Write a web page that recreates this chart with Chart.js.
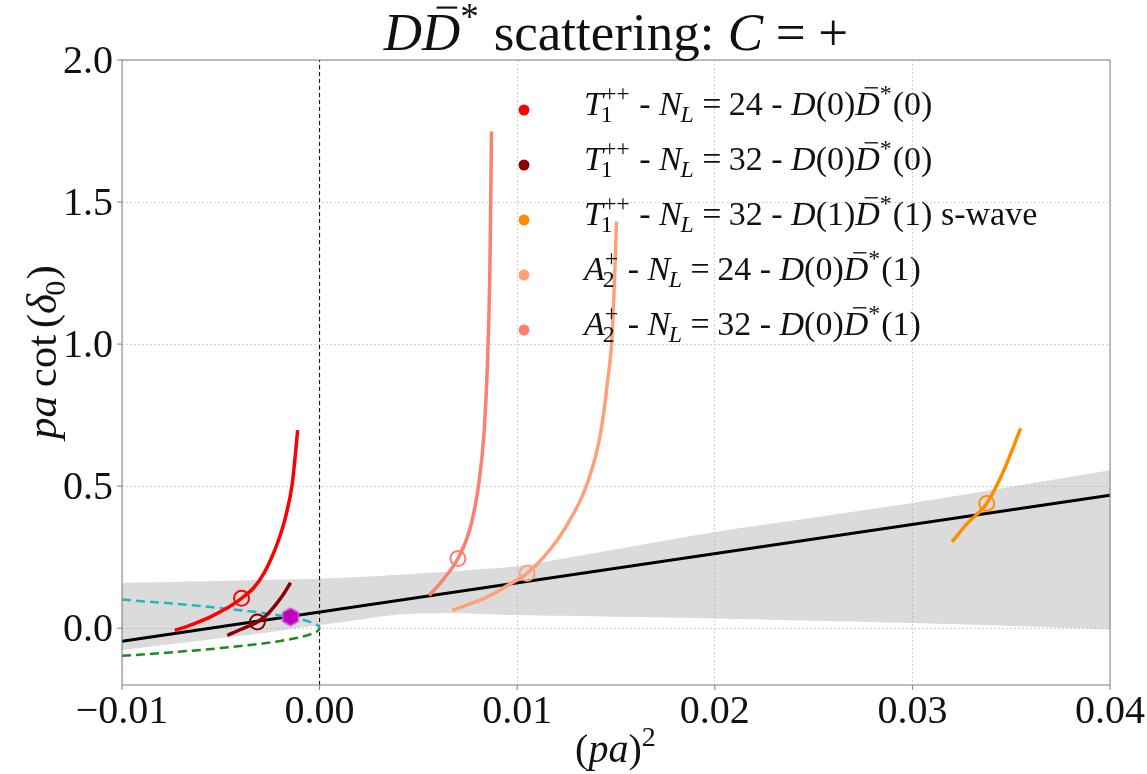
<!DOCTYPE html>
<html>
<head>
<meta charset="utf-8">
<script src="https://cdn.jsdelivr.net/npm/chart.js@4.4.1/dist/chart.umd.min.js"></script>
<style>
html, body { margin: 0; padding: 0; background: #fff; }
#wrap { width: 1147px; height: 774px; position: relative; }
</style>
</head>
<body>
<div id="wrap"><canvas id="chart"></canvas></div>
<script>
// ---- data ----
var xTicks = [-0.01, 0.00, 0.01, 0.02, 0.03, 0.04];
var xTickLabels = ['\u22120.01', '0.00', '0.01', '0.02', '0.03', '0.04'];
var yTicks = [0.0, 0.5, 1.0, 1.5, 2.0];
var yTickLabels = ['0.0', '0.5', '1.0', '1.5', '2.0'];

// effective range fit and its band
var fitX = [-0.01, 0.04];
var fitY = [-0.046, 0.468];
var bandX = [-0.01, -0.008, -0.006, -0.004, -0.002, 0.0, 0.002, 0.004, 0.006, 0.008, 0.01, 0.015, 0.02, 0.025, 0.03, 0.035, 0.04];
var bandHi = [0.160, 0.162, 0.165, 0.168, 0.171, 0.174, 0.180, 0.188, 0.197, 0.207, 0.218, 0.278, 0.339, 0.390, 0.441, 0.498, 0.556];
var bandLo = [-0.077, -0.060, -0.044, -0.027, -0.009, 0.011, 0.030, 0.048, 0.053, 0.050, 0.046, 0.040, 0.034, 0.026, 0.018, 0.008, -0.004];

// bound state lines +/- sqrt(-p^2)
var boundX = [-0.01, -0.009, -0.008, -0.007, -0.006, -0.005, -0.004, -0.003, -0.002, -0.0015, -0.001, -0.0006, -0.0003, -0.0001, -0.00003, 0.0];
var boundPlus = [0.101, 0.095, 0.090, 0.084, 0.078, 0.071, 0.063, 0.055, 0.045, 0.039, 0.032, 0.025, 0.017, 0.010, 0.005, 0.0];
var boundMinus = [-0.097, -0.093, -0.088, -0.082, -0.077, -0.070, -0.063, -0.055, -0.045, -0.039, -0.032, -0.025, -0.017, -0.010, -0.005, 0.0];

// finite volume curves
var t24X = [-0.00733, -0.0065, -0.00552, -0.00475, -0.00395, -0.0033, -0.00282, -0.00245, -0.00214, -0.00172, -0.00138, -0.00111];
var t24Y = [-0.008, 0.012, 0.040, 0.068, 0.105, 0.145, 0.193, 0.245, 0.298, 0.392, 0.510, 0.697];
var t32X = [-0.00467, -0.0039, -0.00315, -0.0027, -0.00231, -0.0019, -0.00147];
var t32Y = [-0.025, -0.002, 0.022, 0.045, 0.075, 0.112, 0.160];
var t32sX = [0.0320, 0.03278, 0.03376, 0.03463, 0.03548];
var t32sY = [0.304, 0.369, 0.439, 0.556, 0.703];
var a24X = [0.00672, 0.00849, 0.0095, 0.0105, 0.01135, 0.01236, 0.01355, 0.01422, 0.01456, 0.01481, 0.01503];
var a24Y = [0.063, 0.110, 0.150, 0.193, 0.251, 0.345, 0.510, 0.686, 0.862, 1.038, 1.431];
var a32X = [0.00555, 0.0063, 0.0070, 0.00764, 0.00806, 0.00832, 0.00849, 0.00862, 0.0087];
var a32Y = [0.115, 0.175, 0.245, 0.357, 0.510, 0.686, 0.920, 1.272, 1.748];

// lattice levels (open circles) and the pole (hexagon)
var levelX = [-0.00395, -0.00315, 0.03376, 0.0105, 0.0070];
var levelY = [0.105, 0.022, 0.439, 0.193, 0.245];
var poleX = [-0.00147];
var poleY = [0.040];

var seriesColors = ['#ff0000', '#8b0000', '#ff8c00', '#ffa07a', '#fa8072'];

// legend texts as math runs
var legendLabels = [
    [{t: 'T', i: 1}, {sup: '++', sub: '1'}, {t: ' - '}, {t: 'N', i: 1}, {sub: 'L', subI: 1}, {g: 0.22}, {t: '='}, {g: 0.22}, {t: '24'}, {t: ' - '}, {t: 'D', i: 1}, {t: '(0)'}, {t: 'D', i: 1, bar: 1}, {sup: '*'}, {t: '(0)'}],
    [{t: 'T', i: 1}, {sup: '++', sub: '1'}, {t: ' - '}, {t: 'N', i: 1}, {sub: 'L', subI: 1}, {g: 0.22}, {t: '='}, {g: 0.22}, {t: '32'}, {t: ' - '}, {t: 'D', i: 1}, {t: '(0)'}, {t: 'D', i: 1, bar: 1}, {sup: '*'}, {t: '(0)'}],
    [{t: 'T', i: 1}, {sup: '++', sub: '1'}, {t: ' - '}, {t: 'N', i: 1}, {sub: 'L', subI: 1}, {g: 0.22}, {t: '='}, {g: 0.22}, {t: '32'}, {t: ' - '}, {t: 'D', i: 1}, {t: '(1)'}, {t: 'D', i: 1, bar: 1}, {sup: '*'}, {t: '(1) s-wave'}],
    [{t: 'A', i: 1}, {sup: '+', sub: '2'}, {t: ' - '}, {t: 'N', i: 1}, {sub: 'L', subI: 1}, {g: 0.22}, {t: '='}, {g: 0.22}, {t: '24'}, {t: ' - '}, {t: 'D', i: 1}, {t: '(0)'}, {t: 'D', i: 1, bar: 1}, {sup: '*'}, {t: '(1)'}],
    [{t: 'A', i: 1}, {sup: '+', sub: '2'}, {t: ' - '}, {t: 'N', i: 1}, {sub: 'L', subI: 1}, {g: 0.22}, {t: '='}, {g: 0.22}, {t: '32'}, {t: ' - '}, {t: 'D', i: 1}, {t: '(0)'}, {t: 'D', i: 1, bar: 1}, {sup: '*'}, {t: '(1)'}]
];
var titleRuns = [{t: 'D', i: 1}, {t: 'D', i: 1, bar: 1}, {sup: '*'}, {t: ' scattering: '}, {t: 'C', i: 1}, {g: 0.24}, {t: '='}, {g: 0.24}, {t: '+'}];
var xTitleRuns = [{t: '('}, {t: 'pa', i: 1}, {t: ')'}, {sup: '2'}];
var yTitleRuns = [{t: 'pa', i: 1}, {g: 0.2}, {t: 'cot'}, {g: 0.15}, {t: '('}, {t: '\u03b4', i: 1}, {sub: '0'}, {t: ')'}];

// ---- helpers ----
function pts(xs, ys) {
    return xs.map(function(x, k) { return {x: x, y: ys[k]}; });
}

function fontStr(italic, px) {
    return (italic ? 'italic ' : '') + px + 'px "Liberation Serif", "DejaVu Serif", serif';
}

// draws (or only measures) a run list, returns its width
function mathRuns(ctx, runs, x, y, size, draw) {
    var cx = x;
    runs.forEach(function(r) {
        if (r.g !== undefined) { cx += r.g * size; return; }
        if (r.sup !== undefined || r.sub !== undefined) {
            var s = size * 0.7, w = 0;
            if (r.sup) {
                ctx.font = fontStr(false, s);
                if (draw) ctx.fillText(r.sup, cx, y - size * 0.40);
                w = Math.max(w, ctx.measureText(r.sup).width);
            }
            if (r.sub) {
                ctx.font = fontStr(r.subI, s);
                var k = r.sup ? -0.06 * size : -0.04 * size;
                if (draw) ctx.fillText(r.sub, cx + k, y + size * 0.22);
                w = Math.max(w, ctx.measureText(r.sub).width + k);
            }
            cx += w + 0.03 * size;
            return;
        }
        ctx.font = fontStr(r.i, size);
        var tw = ctx.measureText(r.t).width;
        if (draw) {
            ctx.fillText(r.t, cx, y);
            if (r.bar) {
                ctx.save();
                ctx.lineWidth = Math.max(1.2, size * 0.04);
                ctx.beginPath();
                ctx.moveTo(cx + tw * 0.38, y - size * 0.80);
                ctx.lineTo(cx + tw * 0.92, y - size * 0.80);
                ctx.strokeStyle = ctx.fillStyle;
                ctx.stroke();
                ctx.restore();
            }
        }
        cx += tw;
    });
    return cx - x;
}

function drawMath(ctx, runs, x, y, size, align) {
    var w = mathRuns(ctx, runs, 0, 0, size, false);
    var sx = align === 'center' ? x - w / 2 : (align === 'right' ? x - w : x);
    mathRuns(ctx, runs, sx, y, size, true);
}

function hexagon(r, fill, stroke) {
    var c = document.createElement('canvas');
    var s = Math.ceil(r * 2 + 4);
    c.width = s; c.height = s;
    var g = c.getContext('2d');
    g.beginPath();
    for (var k = 0; k < 6; k++) {
        var ang = Math.PI / 2 + k * Math.PI / 3;
        var px = s / 2 + r * Math.cos(ang), py = s / 2 + r * Math.sin(ang);
        if (k === 0) g.moveTo(px, py); else g.lineTo(px, py);
    }
    g.closePath();
    g.fillStyle = fill; g.fill();
    g.strokeStyle = stroke; g.lineWidth = 1.5; g.stroke();
    return c;
}

function curve(xs, ys, color, order) {
    return {
        data: pts(xs, ys),
        borderColor: color,
        borderWidth: 3.5,
        pointRadius: 0,
        fill: false,
        cubicInterpolationMode: 'monotone',
        order: order
    };
}

// ---- decorations: spines, ticks, labels, title, legend ----
var decor = {
    id: 'decor',
    afterDraw: function(chart) {
        var ctx = chart.ctx, a = chart.chartArea;
        var xs = chart.scales.x, ys = chart.scales.y;
        ctx.save();
        ctx.strokeStyle = '#808080';
        ctx.lineWidth = 1;
        ctx.strokeRect(a.left, a.top, a.right - a.left, a.bottom - a.top);

        ctx.fillStyle = '#111';
        ctx.textBaseline = 'alphabetic';
        xTicks.forEach(function(v, k) {
            var px = xs.getPixelForValue(v);
            ctx.beginPath(); ctx.moveTo(px, a.bottom); ctx.lineTo(px, a.bottom + 5); ctx.stroke();
            ctx.font = fontStr(false, 40);
            ctx.textAlign = 'center';
            ctx.fillText(xTickLabels[k], px, a.bottom + 38);
        });
        yTicks.forEach(function(v, k) {
            var py = ys.getPixelForValue(v);
            ctx.beginPath(); ctx.moveTo(a.left - 5, py); ctx.lineTo(a.left, py); ctx.stroke();
            ctx.font = fontStr(false, 40);
            ctx.textAlign = 'right';
            ctx.fillText(yTickLabels[k], a.left - 9, py + 13);
        });

        ctx.textAlign = 'left';
        drawMath(ctx, titleRuns, (a.left + a.right) / 2, 50, 53, 'center');
        drawMath(ctx, xTitleRuns, (a.left + a.right) / 2, 762, 40, 'center');

        ctx.save();
        ctx.translate(56, 352);
        ctx.rotate(-Math.PI / 2);
        drawMath(ctx, yTitleRuns, 0, 0, 43, 'center');
        ctx.restore();

        // legend
        legendLabels.forEach(function(runs, k) {
            var my = 110 + k * 55;
            ctx.beginPath();
            ctx.arc(524, my, 5.5, 0, Math.PI * 2);
            ctx.fillStyle = seriesColors[k];
            ctx.fill();
            ctx.fillStyle = '#111';
            drawMath(ctx, runs, 584, my + 5, 34, 'left');
        });
        ctx.restore();
    }
};

var gridOpts = { color: '#c8c8c8', lineWidth: 0.8, drawTicks: false };

new Chart(document.getElementById('chart').getContext('2d'), {
    type: 'line',
    data: {
        datasets: [
            { data: pts(bandX, bandHi), borderWidth: 0, pointRadius: 0, backgroundColor: 'rgba(160,160,160,0.38)', fill: '+1', tension: 0.3, order: 20 },
            { data: pts(bandX, bandLo), borderWidth: 0, pointRadius: 0, fill: false, tension: 0.3, order: 21 },
            { data: pts(fitX, fitY), borderColor: '#000', borderWidth: 3, pointRadius: 0, fill: false, order: 15 },
            { data: [{x: 0, y: -0.2}, {x: 0, y: 2.0}], borderColor: '#000', borderWidth: 1, borderDash: [4, 3], pointRadius: 0, fill: false, order: 14 },
            { data: pts(boundX, boundPlus), borderColor: '#1cbcbc', borderWidth: 2.5, borderDash: [9, 5], pointRadius: 0, fill: false, tension: 0, order: 13 },
            { data: pts(boundX, boundMinus), borderColor: '#1a8c1a', borderWidth: 2.5, borderDash: [9, 5], pointRadius: 0, fill: false, tension: 0, order: 12 },
            curve(t24X, t24Y, seriesColors[0], 10),
            curve(t32X, t32Y, seriesColors[1], 9),
            curve(t32sX, t32sY, seriesColors[2], 8),
            curve(a24X, a24Y, seriesColors[3], 7),
            curve(a32X, a32Y, seriesColors[4], 6),
            {
                data: pts(levelX, levelY),
                showLine: false,
                pointRadius: 7.5,
                pointBorderWidth: 2,
                pointBackgroundColor: 'rgba(0,0,0,0)',
                pointBorderColor: seriesColors,
                order: 3
            },
            {
                data: pts(poleX, poleY),
                showLine: false,
                pointStyle: hexagon(9, '#c000c0', '#d860d8'),
                order: 1
            }
        ]
    },
    options: {
        responsive: true,
        maintainAspectRatio: false,
        animation: false,
        layout: { padding: { left: 122, right: 37, top: 60, bottom: 89 } },
        plugins: {
            legend: { display: false },
            tooltip: { enabled: false }
        },
        scales: {
            x: {
                type: 'linear',
                min: -0.01,
                max: 0.04,
                afterBuildTicks: function(scale) { scale.ticks = xTicks.map(function(v) { return {value: v}; }); },
                ticks: { display: false },
                grid: gridOpts,
                border: { display: false, dash: [2, 2] }
            },
            y: {
                type: 'linear',
                min: -0.2,
                max: 2.0,
                afterBuildTicks: function(scale) { scale.ticks = yTicks.map(function(v) { return {value: v}; }); },
                ticks: { display: false },
                grid: gridOpts,
                border: { display: false, dash: [2, 2] }
            }
        }
    },
    plugins: [decor]
});
</script>
</body>
</html>
